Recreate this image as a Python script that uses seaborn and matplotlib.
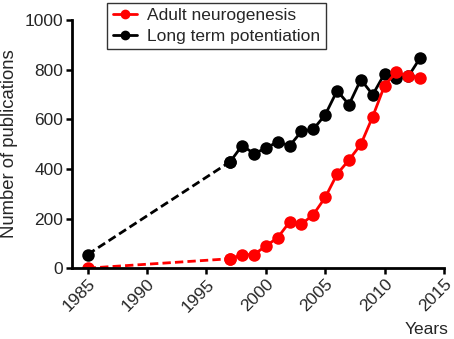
import pandas as pd
import matplotlib
matplotlib.use('Agg')
import matplotlib.pyplot as plt
import seaborn as sns
from matplotlib.lines import Line2D

sns.set_style('ticks')
plt.rcParams['font.family'] = ['Liberation Sans', 'DejaVu Sans']

# data
years = [1985, 1997, 1998, 1999, 2000, 2001, 2002, 2003, 2004, 2005,
         2006, 2007, 2008, 2009, 2010, 2011, 2012, 2013]
neurogenesis = [0, 38, 54, 55, 89, 123, 186, 177, 216, 285,
                379, 436, 499, 611, 736, 791, 773, 767]
ltp = [55, 429, 494, 462, 483, 510, 493, 551, 560, 618,
       715, 659, 760, 699, 784, 767, 773, 848]
series_names = ['Adult neurogenesis', 'Long term potentiation']
colors = ['#FF0000', '#000000']

df = pd.DataFrame({'year': years, series_names[0]: neurogenesis, series_names[1]: ltp})

FS = 12.5
fig = plt.figure(figsize=(4.54, 3.39), dpi=100)
ax = fig.add_axes([0.158, 0.209, 0.82, 0.732])

# black first so red sits on top where they overlap
for name, col in [(series_names[1], colors[1]), (series_names[0], colors[0])]:
    early = df.iloc[:2]
    late = df.iloc[1:]
    sns.lineplot(data=early, x='year', y=name, ax=ax, color=col, lw=2,
                 linestyle=(0, (3, 1.5)), marker='o', markersize=9,
                 markeredgewidth=0)
    sns.lineplot(data=late, x='year', y=name, ax=ax, color=col, lw=2,
                 marker='o', markersize=9, markeredgewidth=0)

ax.set_xlim(1983.66, 2015)
ax.set_ylim(0, 1000)
ax.set_xticks([1985, 1990, 1995, 2000, 2005, 2010, 2015])
ax.set_yticks([0, 200, 400, 600, 800, 1000])
ax.tick_params(axis='both', labelsize=FS, width=1.8, length=4, color='black', pad=2)
plt.setp(ax.get_xticklabels(), rotation=45, ha='right', rotation_mode='anchor')
for s in ['left', 'bottom']:
    ax.spines[s].set_linewidth(2)
    ax.spines[s].set_color('black')
ax.spines[['right', 'top']].set_visible(False)

ax.set_ylabel('Number of publications', fontsize=13.3, labelpad=5)
ax.set_xlabel('')
fig.text(0.987, 0.006, 'Years', ha='right', va='bottom', fontsize=FS)

handles = [Line2D([], [], color=c, lw=2, marker='o', markersize=6) for c in colors]
leg = ax.legend(handles, series_names, loc='upper left', bbox_to_anchor=(0.096, 1.068),
                fontsize=FS, frameon=True, fancybox=False, edgecolor='black',
                handlelength=1.4, handletextpad=0.6, borderpad=0.3, labelspacing=0.3,
                borderaxespad=0)
leg.get_frame().set_linewidth(1)

fig.savefig('out.png', dpi=100)
